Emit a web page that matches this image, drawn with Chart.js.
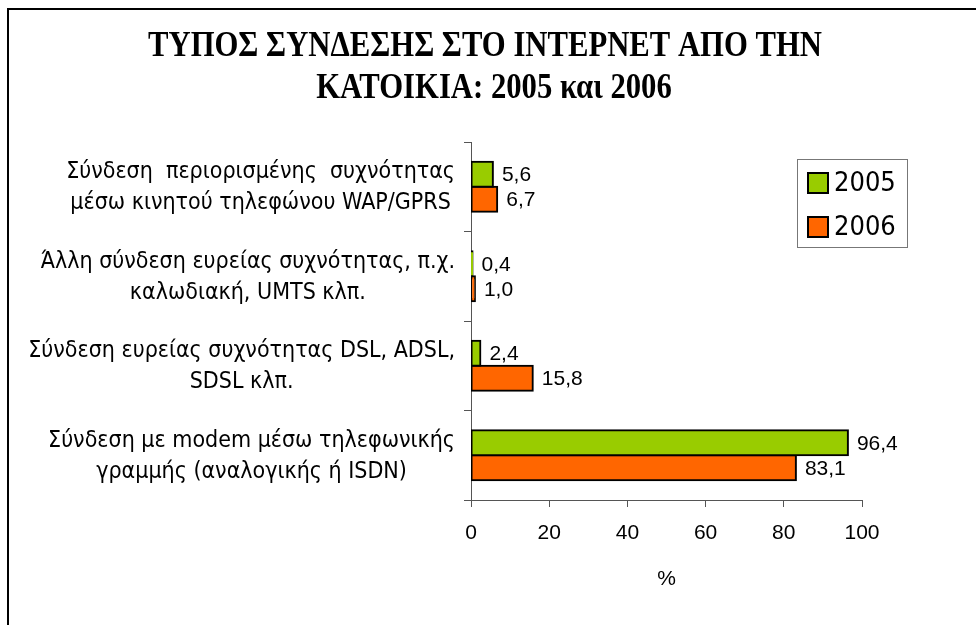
<!DOCTYPE html>
<html>
<head>
<meta charset="utf-8">
<script src="https://cdn.jsdelivr.net/npm/chart.js@4"></script>
<style>
  html, body { margin: 0; padding: 0; background: #fff; }
  #wrap { position: relative; width: 976px; height: 625px; overflow: hidden; }
  #frame { position: absolute; left: 7px; top: 8px; width: 980px; height: 640px;
           border-left: 2px solid #000; border-top: 2px solid #000; }
  canvas { position: absolute; left: 0; top: 0; }
</style>
</head>
<body>
<div id="wrap">
  <div id="frame"></div>
  <canvas id="chart" width="976" height="625"></canvas>
</div>
<script>
// chart data
const categories = [
  ['Σύνδεση  περιορισμένης  συχνότητας', 'μέσω κινητού τηλεφώνου WAP/GPRS'],
  ['Άλλη σύνδεση ευρείας συχνότητας, π.χ.', 'καλωδιακή, UMTS κλπ.'],
  ['Σύνδεση ευρείας συχνότητας DSL, ADSL,', 'SDSL κλπ.'],
  ['Σύνδεση με modem μέσω τηλεφωνικής', 'γραμμής (αναλογικής ή ISDN)']
];
const values2005 = [5.6, 0.4, 2.4, 96.4];
const values2006 = [6.7, 1.0, 15.8, 83.1];
const seriesNames = ['2005', '2006'];
const xTicks = [0, 20, 40, 60, 80, 100];
const titleLines = ['ΤΥΠΟΣ ΣΥΝΔΕΣΗΣ ΣΤΟ ΙΝΤΕΡΝΕΤ ΑΠΟ ΤΗΝ', 'ΚΑΤΟΙΚΙΑ: 2005 και 2006'];
const axisTitle = '%';

const colors = ['#99CC00', '#FF6600'];
const labelFont = '"DejaVu Sans Condensed", "DejaVu Sans", sans-serif';
const numFont = '"Liberation Sans", Arial, sans-serif';

// title, category labels, value labels and legend
const extras = {
  id: 'extras',
  afterDraw(chart) {
    const ctx = chart.ctx;
    const yScale = chart.scales.y;
    ctx.save();

    // title (squeezed horizontally like the original)
    ctx.font = 'bold 35px "Liberation Serif", "Times New Roman", serif';
    ctx.fillStyle = '#000';
    ctx.textAlign = 'center';
    ctx.textBaseline = 'middle';
    const w0 = ctx.measureText(titleLines[0]).width;
    const sx = Math.min(1, 674 / w0);
    [[485, 47], [494, 89]].forEach(([tx, ty], i) => {
      ctx.save();
      ctx.translate(tx, ty);
      ctx.scale(sx, 1);
      ctx.fillText(titleLines[i], 0, 0);
      ctx.restore();
    });

    // category labels: centred block, right edge near the axis
    ctx.font = '23px ' + labelFont;
    categories.forEach((lines, i) => {
      const cy = yScale.getPixelForValue(i);
      const maxW = Math.max(...lines.map(l => ctx.measureText(l).width));
      const cx = chart.chartArea.left - 16 - maxW / 2;
      lines.forEach((l, j) => {
        ctx.fillText(l, cx, cy + 1 + (j - (lines.length - 1) / 2) * 31);
      });
    });

    // value labels
    ctx.font = '21px ' + numFont;
    ctx.textAlign = 'left';
    chart.data.datasets.forEach((ds, di) => {
      chart.getDatasetMeta(di).data.forEach((bar, i) => {
        const txt = ds.data[i].toFixed(1).replace('.', ',');
        ctx.fillText(txt, bar.x + 9, bar.y + 1);
      });
    });

    // legend box
    ctx.fillStyle = '#fff';
    ctx.strokeStyle = '#777';
    ctx.lineWidth = 1;
    ctx.fillRect(797.5, 159.5, 110, 88);
    ctx.strokeRect(797.5, 159.5, 110, 88);
    ctx.font = '27px ' + labelFont;
    seriesNames.forEach((name, i) => {
      const ly = 183 + i * 44;
      ctx.fillStyle = colors[i];
      ctx.fillRect(808, ly - 10, 20, 20);
      ctx.strokeStyle = '#000';
      ctx.lineWidth = 2;
      ctx.strokeRect(808, ly - 10, 20, 20);
      ctx.fillStyle = '#000';
      ctx.fillText(name, 834, ly + 1);
    });
    ctx.restore();
  }
};

new Chart(document.getElementById('chart'), {
  type: 'bar',
  data: {
    labels: categories,
    datasets: [
      { label: seriesNames[0], data: values2005, backgroundColor: colors[0] },
      { label: seriesNames[1], data: values2006, backgroundColor: colors[1] }
    ].map(d => Object.assign(d, {
      borderColor: '#000', borderWidth: 2, borderSkipped: false, inflateAmount: 1,
      barPercentage: 1, categoryPercentage: 0.56
    }))
  },
  options: {
    indexAxis: 'y',
    responsive: false,
    animation: false,
    layout: { padding: { top: 142, right: 114, bottom: 29, left: 0 } },
    plugins: { legend: { display: false }, tooltip: { enabled: false }, title: { display: false } },
    scales: {
      x: {
        min: xTicks[0], max: xTicks[xTicks.length - 1],
        afterBuildTicks: s => { s.ticks = xTicks.map(v => ({ value: v })); },
        afterFit: s => { s.height = 96; },
        ticks: { color: '#000', font: { family: numFont, size: 21 }, padding: 14, maxRotation: 0 },
        grid: { drawOnChartArea: false, tickLength: 7, color: '#555', lineWidth: 1 },
        border: { color: '#555', width: 1 },
        title: { display: true, text: axisTitle, color: '#000', font: { family: numFont, size: 21 }, padding: { top: 18 } }
      },
      y: {
        afterFit: s => { s.width = 471; },
        ticks: { display: false },
        grid: { drawOnChartArea: false, tickLength: 7, color: '#555', lineWidth: 1 },
        border: { color: '#555', width: 1 }
      }
    }
  },
  plugins: [extras]
});
</script>
</body>
</html>
